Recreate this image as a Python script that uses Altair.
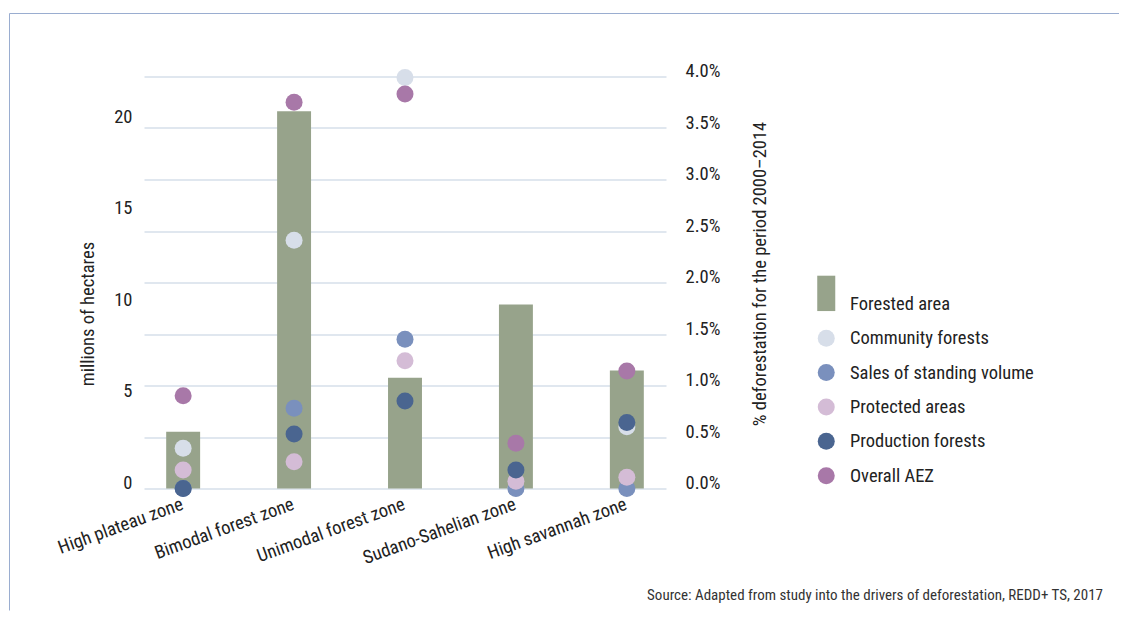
import altair as alt
import pandas as pd

zones = ["High plateau zone", "Bimodal forest zone", "Unimodal forest zone",
         "Sudano-Sahelian zone", "High savannah zone"]
forested_area = [3.1, 20.6, 6.05, 10.05, 6.45]  # millions of hectares

series = ["Community forests", "Sales of standing volume", "Protected areas",
          "Production forests", "Overall AEZ"]
community = [0.0039, 0.0241, 0.0399, 0.0000, 0.0060]
sales = [0.0000, 0.0078, 0.0145, 0.0000, 0.0000]
protected = [0.0018, 0.0026, 0.0124, 0.0007, 0.0011]
production = [0.0000, 0.0053, 0.0085, 0.0018, 0.0064]
overall = [0.0090, 0.0375, 0.0383, 0.0044, 0.0114]

legend_names = ["Forested area"] + series
legend_colors = ["#97a38b", "#d7dee9", "#7a90bd", "#d4bcd6", "#4a6590", "#a878a8"]
rect_path = "M-1.06,-3.3H1.06V0.86H-1.06Z"
legend_shapes = [rect_path, "circle", "circle", "circle", "circle", "circle"]

FONT = "Roboto Condensed, DejaVu Sans Condensed, Roboto, sans-serif"
TEXT = "#222222"
FS = 18.5
W, H = 522, 412

bars_df = pd.DataFrame({"zone": zones, "area": forested_area, "series": "Forested area"})
rows = []
for k, (name, vals) in enumerate(zip(series, [community, sales, protected, production, overall])):
    for z, v in zip(zones, vals):
        rows.append({"zone": z, "series": name, "pct": v, "k": k})
pts_df = pd.DataFrame(rows)

def legend():
    return alt.Legend(title=None, orient="none", legendX=673, legendY=218,
                      padding=0, symbolSize=289, symbolStrokeWidth=0,
                      labelFont=FONT, labelFontSize=FS, labelColor=TEXT, labelLimit=400,
                      labelOffset=14.5, rowPadding=15.4, symbolOpacity=1)

color = alt.Color("series:N", scale=alt.Scale(domain=legend_names, range=legend_colors),
                  legend=legend())
shape = alt.Shape("series:N", scale=alt.Scale(domain=legend_names, range=legend_shapes),
                  legend=legend())

xenc = alt.X("zone:N", sort=zones,
             scale=alt.Scale(paddingInner=0.694, paddingOuter=0.2),
             axis=alt.Axis(title=None, labelAngle=340, labelAlign="right", labelBaseline="top",
                           labelPadding=6, labelOffset=-4, ticks=False, domain=False, grid=False,
                           labelFont=FONT, labelFontSize=FS, labelColor=TEXT, labelLimit=300))

bars = alt.Chart(bars_df).mark_bar(opacity=1).encode(
    x=xenc,
    y=alt.Y("area:Q", scale=alt.Scale(domain=[0, 22.5], nice=False),
            axis=alt.Axis(title="millions of hectares", orient="left", values=[0, 5, 10, 15, 20],
                          grid=False, ticks=False, domain=False, labelPadding=12,
                          labelBaseline="alphabetic", labelFont=FONT, labelFontSize=FS,
                          labelColor=TEXT, titleFont=FONT, titleFontSize=FS, titleFontWeight="normal",
                          titleColor=TEXT, titleX=-57, titleY=237, titleAngle=270,
                          titleBaseline="middle")),
    color=color,
)

points = alt.Chart(pts_df).mark_point(filled=True, size=289, opacity=1, strokeWidth=0).encode(
    x=alt.X("zone:N", sort=zones),
    y=alt.Y("pct:Q", scale=alt.Scale(domain=[0, 0.04], nice=False),
            axis=alt.Axis(title="% deforestation for the period 2000–2014", orient="right",
                          values=[0, 0.005, 0.01, 0.015, 0.02, 0.025, 0.03, 0.035, 0.04],
                          format=".1%", grid=True, gridColor="#d6dfea", gridWidth=1.3,
                          ticks=False, domain=False, labelPadding=19,
                          labelBaseline="alphabetic", labelFont=FONT, labelFontSize=FS,
                          labelColor=TEXT, titleFont=FONT, titleFontSize=FS,
                          titleFontWeight="normal", titleColor=TEXT, titleX=93, titleY=197,
                          titleAngle=270, titleBaseline="middle")),
    color=color,
    shape=shape,
    order=alt.Order("k:Q"),
)

one = pd.DataFrame({"a": [0]})
frame_left = alt.Chart(one).mark_rule(color="#9aadd0", strokeWidth=1).encode(
    x=alt.value(-134.5), y=alt.value(-63), y2=alt.value(534))
frame_top = alt.Chart(one).mark_rule(color="#9aadd0", strokeWidth=1).encode(
    x=alt.value(-134.5), x2=alt.value(975), y=alt.value(-63))
source = alt.Chart(one).mark_text(
    text="Source: Adapted from study into the drivers of deforestation, REDD+ TS, 2017",
    align="right", baseline="alphabetic", font=FONT, fontSize=15, color="#333333"
).encode(x=alt.value(959), y=alt.value(523))

chart = alt.layer(bars, points, frame_left, frame_top, source).resolve_scale(
    y="independent"
).properties(
    width=W, height=H, padding={"left": 1, "top": 4.5, "right": 0, "bottom": 0}
).configure_view(strokeWidth=0)

chart.save("out.html", embed_options={"renderer": "svg", "actions": False})
